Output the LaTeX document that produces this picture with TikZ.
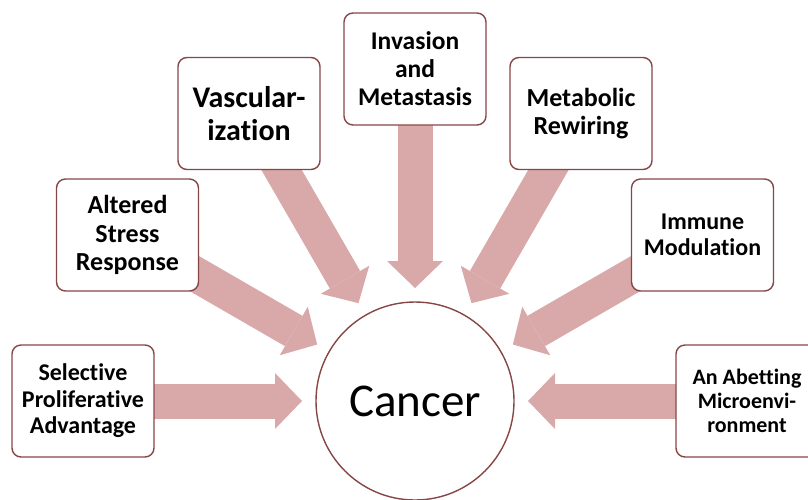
\documentclass[tikz,border=0pt]{standalone}
\usepackage{fontspec}
\setmainfont[Ligatures=NoCommon]{Carlito}
\usetikzlibrary{calc,arrows.meta}
\definecolor{arrowrose}{RGB}{217,168,168}
\definecolor{boxline}{RGB}{135,70,70}
\pgfdeclarelayer{bg}
\pgfsetlayers{bg,main}
\begin{document}
\begin{tikzpicture}[x=1pt,y=-1pt,
  hallbox/.style={draw=boxline, line width=1.4pt, fill=white, rounded corners=9pt,
    minimum width=142pt, minimum height=112pt, align=center, inner sep=2pt},
  hub/.style={draw=boxline, line width=1.4pt, fill=white, circle, minimum size=198pt,
    inner sep=0pt, font=\fontsize{47}{56}\selectfont},
  bigarrow/.style={draw=arrowrose, line width=35pt,
    -{Triangle[width=56pt,length=27pt,line width=0pt]}}]
\useasboundingbox (0,0) rectangle (808,499);
\node[hub] (cancer) at (415,401) {Cancer};
\node[hallbox, font=\bfseries\fontsize{24}{26.4}\selectfont] (sel) at (83,401) {Selective\\Proliferative\\Advantage};
\node[hallbox, font=\bfseries\fontsize{26}{28.6}\selectfont] (alt) at (127.5,235) {Altered\\Stress\\Response};
\node[hallbox, font=\bfseries\fontsize{30}{33}\selectfont] (vas) at (249,113.5) {Vascular-\\ization};
\node[hallbox, font=\bfseries\fontsize{25.5}{28}\selectfont] (inv) at (415,69) {Invasion\\and\\Metastasis};
\node[hallbox, font=\bfseries\fontsize{26}{28.6}\selectfont] (met) at (581,113.5) {Metabolic\\Rewiring};
\node[hallbox, font=\bfseries\fontsize{24}{26.4}\selectfont] (imm) at (702.5,235) {Immune\\Modulation};
\node[hallbox, font=\bfseries\fontsize{22}{24}\selectfont] (abe) at (747,401) {An Abetting\\Microenvi-\\ronment};
\begin{pgfonlayer}{bg}
\foreach \b in {sel,alt,vas,inv,met,imm,abe} {
  \coordinate (tip-\b) at ($(cancer.center)!113pt!(\b.center)$);
  \draw[bigarrow] (\b.center) -- (tip-\b);
}
\end{pgfonlayer}
\end{tikzpicture}
\end{document}
